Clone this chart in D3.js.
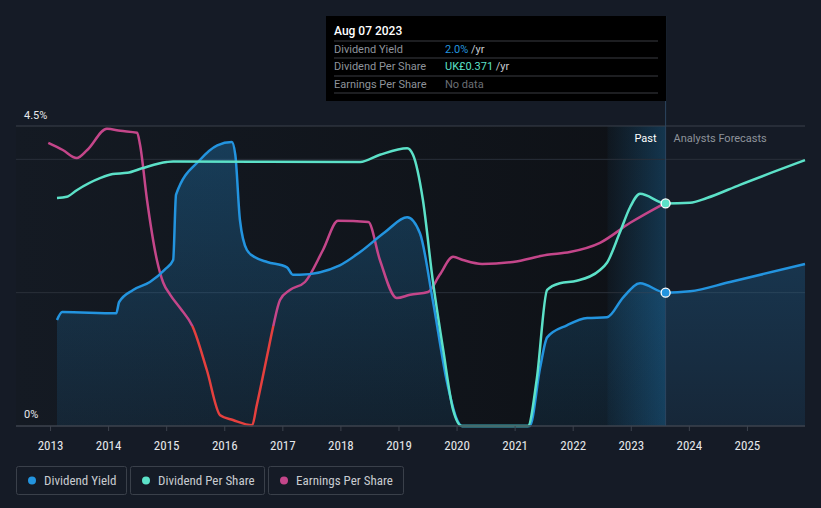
<!DOCTYPE html>
<html><head><meta charset="utf-8">
<script src="https://cdn.jsdelivr.net/npm/d3@7"></script>
<style>
html,body{margin:0;padding:0;background:#151b26;}
svg{display:block;font-family:Roboto,"Noto Sans",sans-serif;}
.narrow{font-family:"Roboto Condensed","Liberation Sans Narrow","Arial Narrow",Roboto,sans-serif;}
</style></head>
<body><svg id="c" width="821" height="508"></svg>
<script>
// Dividend Yield (%), [year, value]
const yieldYears = [2013.12,2013.21,2014.14,2014.19,2014.43,2014.72,2014.98,2015.12,2015.17,2015.58,2015.88,2016.13,2016.19,2016.27,2016.39,2016.53,2016.74,2017.08,2017.18,2017.30,2017.99,2018.34,2018.77,2019.15,2019.37,2019.59,2019.84,2020.01,2020.09,2021.26,2021.44,2021.56,2021.90,2022.25,2022.59,2022.87,2023.16,2023.60,2024.02,2024.71,2026.00];
const yieldValues = [1.59,1.71,1.69,1.86,2.04,2.16,2.35,2.49,3.47,3.99,4.21,4.26,4.07,3.09,2.64,2.53,2.46,2.38,2.27,2.27,2.41,2.61,2.91,3.13,2.89,1.89,0.64,0.09,0,0,0.88,1.33,1.51,1.62,1.63,1.93,2.14,2.0,2.02,2.16,2.43];
// Dividend Per Share (UK£)
const dpsYears = [2013.12,2013.29,2013.46,2013.86,2014.08,2014.33,2014.60,2015.01,2015.12,2018.34,2018.68,2019.15,2019.25,2019.42,2019.59,2019.77,2019.94,2020.09,2021.23,2021.38,2021.56,2021.78,2022.07,2022.47,2022.59,2022.81,2022.99,2023.16,2023.60,2024.02,2024.31,2024.88,2026.00];
const dpsValues = [0.380,0.382,0.393,0.413,0.420,0.422,0.430,0.440,0.441,0.440,0.452,0.463,0.452,0.377,0.243,0.127,0.027,0,0,0.077,0.227,0.238,0.242,0.260,0.272,0.322,0.365,0.387,0.371,0.372,0.380,0.402,0.443];
// Earnings Per Share (UK£)
const epsYears = [2012.97,2013.22,2013.46,2013.64,2013.98,2014.21,2014.50,2014.55,2014.67,2014.84,2014.95,2015.07,2015.24,2015.46,2015.70,2015.93,2016.15,2016.48,2016.56,2016.74,2016.84,2016.96,2017.13,2017.39,2017.70,2017.96,2018.48,2018.68,2018.97,2019.20,2019.51,2019.71,2019.94,2020.11,2020.44,2020.97,2021.56,2021.95,2022.47,2022.99,2023.60];
const epsValues = [0.458,0.440,0.420,0.440,0.493,0.488,0.483,0.453,0.315,0.165,0.108,0.078,0.045,-0.003,-0.110,-0.223,-0.235,-0.248,-0.198,-0.073,-0.003,0.065,0.090,0.110,0.190,0.263,0.260,0.165,0.070,0.078,0.085,0.128,0.173,0.165,0.155,0.160,0.178,0.185,0.208,0.258,0.308];
const tickYears = [2013,2014,2015,2016,2017,2018,2019,2020,2021,2022,2023,2024,2025];
const yLabels = ["4.5%","0%"];
const gridValues = [4.5,4.0,2.0];
const seriesNames = ["Dividend Yield","Dividend Per Share","Earnings Per Share"];
const seriesColors = ["#2394df","#5ce1c8","#c4468a"];
const tipDate = "Aug 07 2023";
const tipValues = ["2.0%","UK£0.371","No data"];
const nowYear = 2023.60, pastStart = 2022.60;

const svg = d3.select("#c");
const L=16, R=805, T=126, B=426;
const x = d3.scaleLinear().domain([2012.414, 2026.0]).range([L,R]);
const yY = d3.scaleLinear().domain([0,4.5]).range([B,T]);
const yD = d3.scaleLinear().domain([0,0.5]).range([B,T]);
const yE = d3.scaleLinear().domain([-0.25,0.5]).range([B,T]);

const defs = svg.append("defs");
const g1 = defs.append("linearGradient").attr("id","pastbg").attr("x1",0).attr("x2",1).attr("y1",0).attr("y2",0);
g1.append("stop").attr("offset","0%").attr("stop-color","#141a23");
g1.append("stop").attr("offset","100%").attr("stop-color","#0e1116");
const g2 = defs.append("linearGradient").attr("id","band").attr("x1",0).attr("x2",1).attr("y1",0).attr("y2",0);
g2.append("stop").attr("offset","0%").attr("stop-color","#2394df").attr("stop-opacity",0.04);
g2.append("stop").attr("offset","100%").attr("stop-color","#2394df").attr("stop-opacity",0.28);
const g3 = defs.append("linearGradient").attr("id","areafill").attr("x1",0).attr("x2",0).attr("y1",0).attr("y2",1);
g3.append("stop").attr("offset","0%").attr("stop-color","#2394df").attr("stop-opacity",0.30);
g3.append("stop").attr("offset","100%").attr("stop-color","#2394df").attr("stop-opacity",0.10);
defs.append("clipPath").attr("id","above").append("rect").attr("x",0).attr("y",0).attr("width",821).attr("height",yE(0));
defs.append("clipPath").attr("id","below").append("rect").attr("x",0).attr("y",yE(0)).attr("width",821).attr("height",508);

// past background
svg.append("rect").attr("x",L).attr("y",T).attr("width",x(nowYear)-L).attr("height",B-T).attr("fill","url(#pastbg)");
svg.append("rect").attr("x",x(pastStart)).attr("y",T).attr("width",x(nowYear)-x(pastStart)).attr("height",B-T).attr("fill","url(#band)");

// grid
gridValues.forEach((v,i)=>{
  svg.append("line").attr("x1",L).attr("x2",R).attr("y1",yY(v)).attr("y2",yY(v))
    .attr("stroke", i===0?"#3a404b":"#2a303a").attr("stroke-width",1);
});

const yieldData = yieldYears.map((t,i)=>[t,yieldValues[i]]);
const dpsData = dpsYears.map((t,i)=>[t,dpsValues[i]]);
const epsData = epsYears.map((t,i)=>[t,epsValues[i]]);

// area
svg.append("path").datum(yieldData).attr("fill","url(#areafill)")
  .attr("d", d3.area().curve(d3.curveMonotoneX).x(d=>x(d[0])).y0(B).y1(d=>yY(d[1])));

// EPS
const epsLine = d3.line().curve(d3.curveMonotoneX).x(d=>x(d[0])).y(d=>yE(d[1]));
svg.append("path").datum(epsData).attr("d",epsLine).attr("fill","none").attr("stroke",seriesColors[2]).attr("stroke-width",2.5).attr("clip-path","url(#above)");
svg.append("path").datum(epsData).attr("d",epsLine).attr("fill","none").attr("stroke","#e5403e").attr("stroke-width",2.5).attr("clip-path","url(#below)");

// yield
svg.append("path").datum(yieldData).attr("fill","none").attr("stroke",seriesColors[0]).attr("stroke-width",2.5)
  .attr("d", d3.line().curve(d3.curveMonotoneX).x(d=>x(d[0])).y(d=>yY(d[1])));
// DPS
svg.append("path").datum(dpsData).attr("fill","none").attr("stroke",seriesColors[1]).attr("stroke-width",2.5)
  .attr("d", d3.line().curve(d3.curveMonotoneX).x(d=>x(d[0])).y(d=>yD(d[1])));

// axis
svg.append("line").attr("x1",L).attr("x2",R).attr("y1",B).attr("y2",B).attr("stroke","#3d434e").attr("stroke-width",1.5);
const ax = svg.append("g").attr("transform",`translate(0,${B})`)
  .call(d3.axisBottom(x).tickValues(tickYears).tickFormat(d3.format("d")).tickSize(5).tickSizeOuter(0));
ax.select(".domain").remove();
ax.attr("font-family",null);
ax.selectAll("line").attr("stroke","#3d434e");
ax.selectAll("text").attr("class","narrow").attr("fill","#e6e8eb").attr("font-size",13).attr("dy","1.2em");

// y labels
svg.append("text").attr("x",24).attr("y",119).text(yLabels[0]).attr("fill","#e6e8eb").attr("font-size",11);
svg.append("text").attr("x",24).attr("y",418).text(yLabels[1]).attr("fill","#e6e8eb").attr("font-size",11);

// past / forecast labels
svg.append("text").attr("x",x(nowYear)-9).attr("y",142).attr("text-anchor","end").text("Past").attr("fill","#ffffff").attr("font-size",11);
svg.append("text").attr("x",x(nowYear)+8).attr("y",142).text("Analysts Forecasts").attr("fill","#8e939b").attr("font-size",11);

// vertical now line
svg.append("line").attr("x1",x(nowYear)).attr("x2",x(nowYear)).attr("y1",16).attr("y2",B).attr("stroke","#2c4560").attr("stroke-width",1);

// markers
svg.append("circle").attr("cx",x(nowYear)).attr("cy",yY(2.0)).attr("r",4.5).attr("fill",seriesColors[0]).attr("stroke","#fff").attr("stroke-width",1.3);
svg.append("circle").attr("cx",x(nowYear)).attr("cy",yD(0.371)).attr("r",4.5).attr("fill",seriesColors[1]).attr("stroke","#fff").attr("stroke-width",1.3);

// tooltip
const tip = svg.append("g");
tip.append("rect").attr("x",326).attr("y",16).attr("width",340).attr("height",85).attr("fill","#000");
tip.append("text").attr("x",334).attr("y",35).text(tipDate).attr("fill","#fff").attr("font-size",12).attr("font-weight",500);
const rowY=[53,70,88];
[41,58,76,93].forEach(yy=>tip.append("line").attr("x1",334).attr("x2",658).attr("y1",yy).attr("y2",yy).attr("stroke","#3a3d42"));
const valColors=[seriesColors[0],seriesColors[1],"#6b6f75"];
seriesNames.forEach((n,i)=>{
  tip.append("text").attr("x",334).attr("y",rowY[i]).text(n).attr("fill","#8e939b").attr("font-size",11);
  const t = tip.append("text").attr("x",445).attr("y",rowY[i]).attr("font-size",11);
  t.append("tspan").text(tipValues[i]).attr("fill",valColors[i]);
  if(i<2) t.append("tspan").text(" /yr").attr("fill","#c8cbd0");
});

// legend
const lg = svg.append("g");
const boxes=[[16,110],[130,134],[268,135]];
seriesNames.forEach((n,i)=>{
  const [bx,bw]=boxes[i];
  lg.append("rect").attr("x",bx+0.5).attr("y",466.5).attr("width",bw).attr("height",28).attr("rx",2)
    .attr("fill","none").attr("stroke","#3a404a");
  lg.append("circle").attr("cx",bx+16).attr("cy",480.5).attr("r",4).attr("fill",seriesColors[i]);
  lg.append("text").attr("class","narrow").attr("x",bx+28).attr("y",485).text(n).attr("fill","#c8cbd0").attr("font-size",13);
});
</script></body></html>
